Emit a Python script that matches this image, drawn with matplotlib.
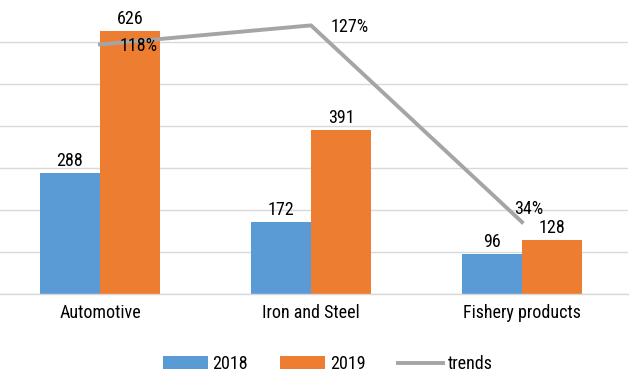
import matplotlib
matplotlib.use("Agg")
import matplotlib.pyplot as plt
import numpy as np
from matplotlib import font_manager

names = {f.name for f in font_manager.fontManager.ttflist}
fams = [n for n in ["Liberation Sans Narrow", "Roboto Condensed", "Open Sans Condensed"] if n in names]
plt.rcParams['font.family'] = fams + ['DejaVu Sans']
plt.rcParams['font.stretch'] = 'condensed'

categories = ["Automotive", "Iron and Steel", "Fishery products"]
values_2018 = [288, 172, 96]
values_2019 = [626, 391, 128]
trends = [1.18, 1.27, 0.34]
trend_labels = ["118%", "127%", "34%"]

BLUE = "#5B9BD5"
ORANGE = "#ED7D31"
GRAY = "#A5A5A5"
GRID = "#D9D9D9"

fig = plt.figure(figsize=(6.3, 3.79), dpi=100)
ax = fig.add_axes([-5.5/630, 85/379, 633/630, 294/379])
x = np.arange(len(categories))
w = 0.285
b1 = ax.bar(x - w/2, values_2018, w, color=BLUE, label="2018", zorder=2)
b2 = ax.bar(x + w/2, values_2019, w, color=ORANGE, label="2019", zorder=2)
ax.set_xlim(-0.5, 2.5)
ax.set_ylim(0, 700)
ax.set_yticks(np.arange(0, 601, 100))
ax.yaxis.grid(True, color=GRID, linewidth=1.0, zorder=0)
ax.set_axisbelow(True)
for s in ["top", "left", "right"]:
    ax.spines[s].set_visible(False)
ax.spines["bottom"].set_color(GRID)
ax.spines["bottom"].set_linewidth(1.0)
ax.tick_params(axis="y", left=False, labelleft=False)
ax.tick_params(axis="x", bottom=False, labelsize=13, pad=4)
ax.set_xticks(x)
ax.set_xticklabels(categories)

for bars, vals in ((b1, values_2018), (b2, values_2019)):
    for r, v in zip(bars, vals):
        ax.annotate(str(v), (r.get_x() + r.get_width()/2, v), xytext=(0, 2),
                    textcoords="offset points", ha="center", va="bottom", fontsize=13)

ax2 = ax.twinx()
ax2.set_ylim(0, 1.39)
ln, = ax2.plot(x, trends, color=GRAY, linewidth=2.8, label="trends", zorder=3)
ax2.axis("off")
offsets = [(14, -1), (14, -1), (5, 3)]
aligns = [("left", "center"), ("left", "center"), ("center", "bottom")]
for xi, t, lab, off, al in zip(x, trends, trend_labels, offsets, aligns):
    ax2.annotate(lab, (xi, t), xytext=off, textcoords="offset points",
                 ha=al[0], va=al[1], fontsize=13)

handles = [b1, b2, ln]
fig.legend(handles, ["2018", "2019", "trends"], loc="center", bbox_to_anchor=(0.52, 0.04),
           ncol=3, frameon=False, fontsize=13, handlelength=2.5, handleheight=0.7,
           columnspacing=1.8, handletextpad=0.25)

fig.savefig("out.png", dpi=100)
